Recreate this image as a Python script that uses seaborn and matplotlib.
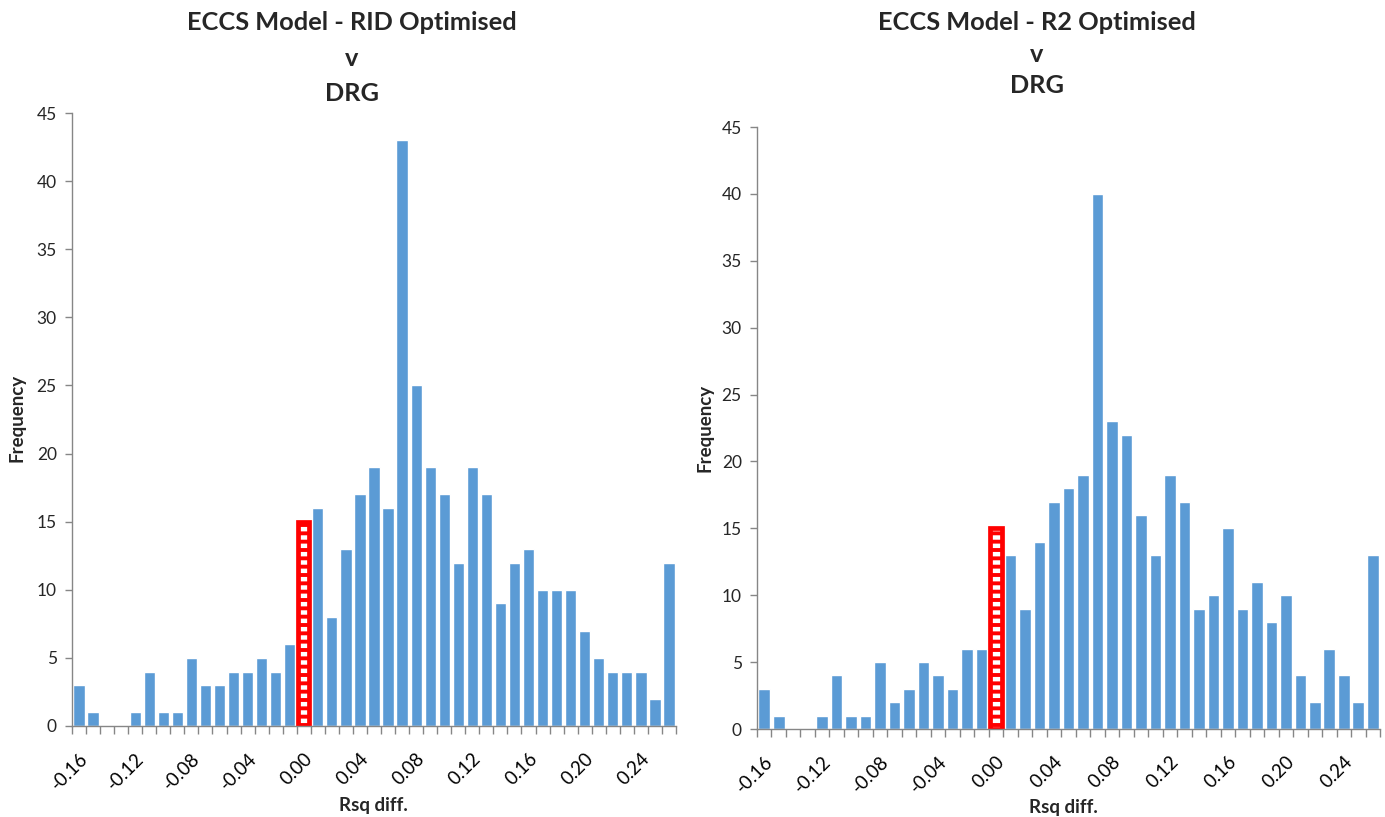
import matplotlib
matplotlib.use("Agg")
import matplotlib.pyplot as plt
import seaborn as sns
import pandas as pd
import numpy as np
from matplotlib.patches import Rectangle

# ---- data ----
bins = ["-0.16", "-0.15", "-0.14", "-0.13", "-0.12", "-0.11", "-0.10", "-0.09",
        "-0.08", "-0.07", "-0.06", "-0.05", "-0.04", "-0.03", "-0.02", "-0.01",
        "0.00", "0.01", "0.02", "0.03", "0.04", "0.05", "0.06", "0.07", "0.08",
        "0.09", "0.10", "0.11", "0.12", "0.13", "0.14", "0.15", "0.16", "0.17",
        "0.18", "0.19", "0.20", "0.21", "0.22", "0.23", "0.24", "0.25", "0.26"]
rid_freq = [3, 1, 0, 0, 1, 4, 1, 1, 5, 3, 3, 4, 4, 5, 4, 6,
            15, 16, 8, 13, 17, 19, 16, 43, 25, 19, 17, 12, 19, 17, 9, 12,
            13, 10, 10, 10, 7, 5, 4, 4, 4, 2, 12]
r2_freq = [3, 1, 0, 0, 1, 4, 1, 1, 5, 2, 3, 5, 4, 3, 6, 6,
           15, 13, 9, 14, 17, 18, 19, 40, 23, 22, 16, 13, 19, 17, 9, 10,
           15, 9, 11, 8, 10, 4, 2, 6, 4, 2, 13]
highlight_bin = "0.00"
tick_labels = ["-0.16", "-0.12", "-0.08", "-0.04", "0.00", "0.04", "0.08",
               "0.12", "0.16", "0.20", "0.24"]
titles = ["ECCS Model - RID Optimised\nv\nDRG", "ECCS Model - R2 Optimised\nv\nDRG"]
xlabel = "Rsq diff."
ylabel = "Frequency"

sns.set_style("white")
plt.rcParams['font.family'] = ['Lato', 'DejaVu Sans']
plt.rcParams['hatch.linewidth'] = 3.2

W, H = 1385, 817
fig = plt.figure(figsize=(W / 100, H / 100), dpi=100)

BLUE = "#5B9BD5"
GRAY = "#868686"

def px_axes(l, t, r, b):
    return fig.add_axes([l / W, 1 - b / H, (r - l) / W, (b - t) / H])

specs = [
    dict(box=(72, 113, 676, 726), freq=rid_freq, title=titles[0],
         tx=352, ty=11, ls=1.66, ylx=17, yly=418, xlx=373, xly=806),
    dict(box=(757, 127, 1380, 729), freq=r2_freq, title=titles[1],
         tx=1037, ty=11, ls=1.45, ylx=705, yly=428, xlx=1063, xly=807),
]

for sp in specs:
    ax = px_axes(*sp["box"])
    df = pd.DataFrame({"bin": bins, "freq": sp["freq"]})
    sns.barplot(data=df, x="bin", y="freq", order=bins, color=BLUE,
                saturation=1, width=0.8, ax=ax)
    hi = bins.index(highlight_bin)
    p = ax.patches[hi]
    p.set_facecolor("red")
    p.set_edgecolor("white")
    p.set_hatch("--")
    p.set_linewidth(0)
    ax.add_patch(Rectangle((p.get_x(), 0), p.get_width(), p.get_height(),
                           facecolor="none", edgecolor="red", linewidth=3.4,
                           zorder=p.get_zorder() + 0.1))

    ax.set_xlim(-0.5, len(bins) - 0.5)
    ax.set_ylim(0, 45)
    ax.set_yticks(np.arange(0, 46, 5))
    ax.set_yticklabels([str(v) for v in range(0, 46, 5)])
    major = [bins.index(t) for t in tick_labels]
    ax.set_xticks(major)
    ax.set_xticklabels(tick_labels, rotation=45, ha="right",
                       rotation_mode="anchor")
    ax.set_xticks(np.arange(-0.5, len(bins), 1), minor=True)
    ax.tick_params(axis="x", which="major", length=0, pad=17, labelsize=13.5,
                   colors="black", bottom=True)
    ax.tick_params(axis="x", which="minor", length=5.5, color=GRAY, width=1,
                   direction="out", bottom=True)
    ax.tick_params(axis="y", length=5, color=GRAY, width=1, direction="out",
                   labelsize=12.5, pad=6, left=True)
    for s in ["top", "right"]:
        ax.spines[s].set_visible(False)
    for s in ["left", "bottom"]:
        ax.spines[s].set_color(GRAY)
        ax.spines[s].set_linewidth(1)
    ax.set_xlabel("")
    ax.set_ylabel("")
    ax.grid(False)

    fig.text(sp["tx"] / W, 1 - sp["ty"] / H, sp["title"], ha="center", va="top",
             fontsize=18.3, fontweight="bold", linespacing=sp["ls"])
    fig.text(sp["ylx"] / W, 1 - sp["yly"] / H, ylabel, rotation=90,
             ha="center", va="center", fontsize=13.5, fontweight="bold")
    fig.text(sp["xlx"] / W, 1 - sp["xly"] / H, xlabel, ha="center",
             va="center", fontsize=13.5, fontweight="bold")

fig.savefig("out.png", dpi=100)
